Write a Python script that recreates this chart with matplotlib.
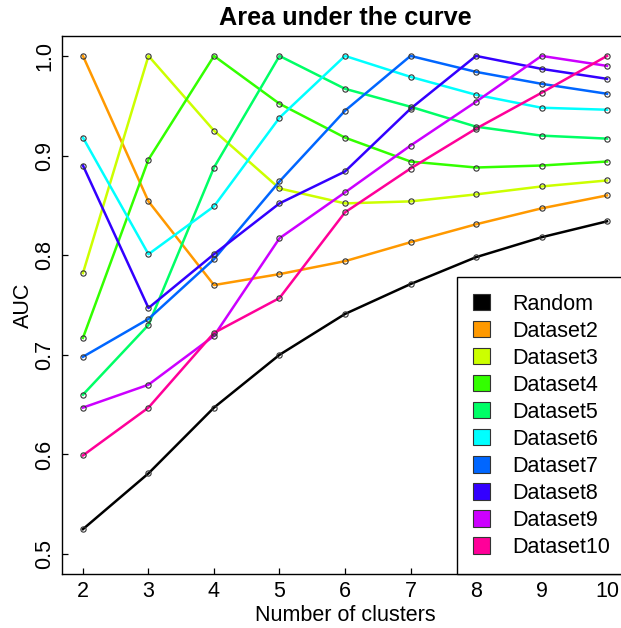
import matplotlib
matplotlib.use("Agg")
import matplotlib.pyplot as plt
from matplotlib.patches import Patch

plt.rcParams['font.family'] = ['Liberation Sans', 'DejaVu Sans']

clusters = [2, 3, 4, 5, 6, 7, 8, 9, 10]
series_names = ["Random", "Dataset2", "Dataset3", "Dataset4", "Dataset5",
                "Dataset6", "Dataset7", "Dataset8", "Dataset9", "Dataset10"]
series_colors = ["#000000", "#FF9900", "#CCFF00", "#33FF00", "#00FF66",
                 "#00FFFF", "#0066FF", "#3300FF", "#CC00FF", "#FF0099"]

auc_random = [0.525, 0.581, 0.647, 0.700, 0.741, 0.771, 0.798, 0.818, 0.834]
auc_ds2 = [1.000, 0.854, 0.770, 0.781, 0.794, 0.813, 0.831, 0.847, 0.860]
auc_ds3 = [0.782, 1.000, 0.925, 0.867, 0.852, 0.854, 0.861, 0.869, 0.875]
auc_ds4 = [0.717, 0.896, 1.000, 0.952, 0.918, 0.894, 0.888, 0.890, 0.894]
auc_ds5 = [0.660, 0.730, 0.888, 1.000, 0.967, 0.949, 0.929, 0.920, 0.917]
auc_ds6 = [0.918, 0.801, 0.849, 0.938, 1.000, 0.979, 0.961, 0.948, 0.946]
auc_ds7 = [0.698, 0.736, 0.796, 0.874, 0.945, 1.000, 0.984, 0.972, 0.962]
auc_ds8 = [0.890, 0.747, 0.801, 0.852, 0.884, 0.947, 1.000, 0.987, 0.977]
auc_ds9 = [0.647, 0.670, 0.719, 0.817, 0.863, 0.910, 0.954, 1.000, 0.990]
auc_ds10 = [0.599, 0.647, 0.722, 0.757, 0.843, 0.887, 0.927, 0.963, 1.000]

all_series = [auc_random, auc_ds2, auc_ds3, auc_ds4, auc_ds5,
              auc_ds6, auc_ds7, auc_ds8, auc_ds9, auc_ds10]

y_ticks = [0.5, 0.6, 0.7, 0.8, 0.9, 1.0]
y_tick_labels = ["0.5", "0.6", "0.7", "0.8", "0.9", "1.0"]

W, H = 621, 628
fig = plt.figure(figsize=(W / 100, H / 100), dpi=100)
# plot region: 62..628 px horizontally (right side runs past the canvas), 36..574 px vertically
ax = fig.add_axes([62 / W, (H - 574) / H, (628 - 62) / W, (574 - 36) / H])

fs = 15.5
for vals, col in zip(all_series, series_colors):
    ax.plot(clusters, vals, color=col, lw=1.8, solid_joinstyle='round', zorder=2)
for vals in all_series:
    ax.plot(clusters, vals, ls='none', marker='o', ms=3.8, mfc='none',
            mec='#333333', mew=0.8, zorder=3)

ax.set_xlim(1.68, 10.32)
ax.set_ylim(0.48, 1.02)
ax.set_xticks(clusters)
ax.set_xticklabels([str(c) for c in clusters])
ax.set_yticks(y_ticks)
ax.set_yticklabels(y_tick_labels, rotation=90, va='center')
ax.tick_params(direction='in', length=4.3, width=0.9, labelsize=fs, colors='black')
ax.tick_params(axis='x', pad=5)
ax.tick_params(axis='y', pad=5)
for s in ax.spines.values():
    s.set_linewidth(1.0)
    s.set_color('black')

ax.set_xlabel("Number of clusters", fontsize=fs, labelpad=2)
ax.set_ylabel("AUC", fontsize=fs, labelpad=0)
ax.set_title("Area under the curve", fontsize=18.2, fontweight='bold', pad=8)

handles = [Patch(facecolor=c, edgecolor='#333333', linewidth=0.8) for c in series_colors]
leg = ax.legend(handles, series_names, loc='lower left',
                bbox_to_anchor=((457 - 62) / 566, 0.0), fontsize=fs,
                frameon=True, fancybox=False, borderaxespad=0,
                handlelength=0.8, handleheight=0.8, handletextpad=1.0,
                labelspacing=0.28, borderpad=0.75)
leg.get_frame().set_edgecolor('black')
leg.get_frame().set_linewidth(1.0)
leg.get_frame().set_alpha(1)

fig.savefig("out.png", dpi=100)
